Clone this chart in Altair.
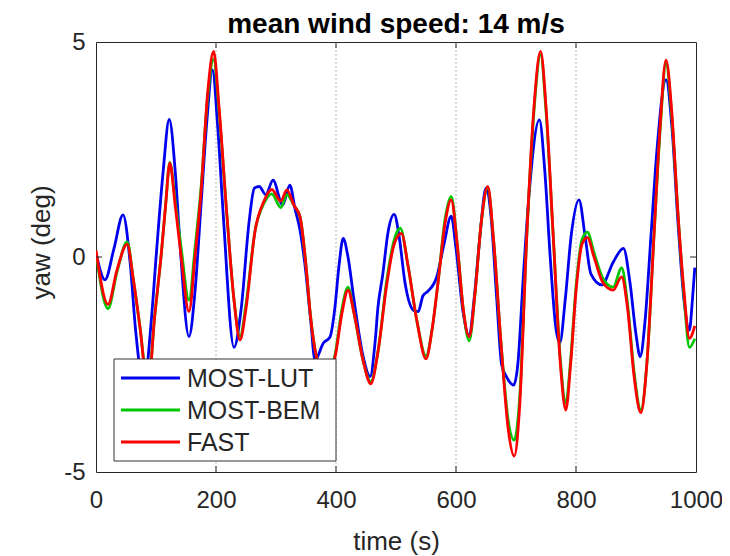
import altair as alt
import pandas as pd

FONT = "Liberation Sans"

# ---- data ----
series_names = ["MOST-LUT", "MOST-BEM", "FAST"]
series_colors = ["#0000ee", "#00c800", "#ff0000"]
title_text = "mean wind speed: 14 m/s"

lut_t = [0, 15, 30, 45, 57, 66, 80, 92, 101, 112, 122, 132, 140, 155, 165, 175, 185, 194, 203, 212,
         230, 242, 255, 264, 272, 283, 295, 311, 323, 332, 340, 348, 358, 365, 379, 390, 398, 405, 412,
         420, 430, 445, 457, 465, 470, 478, 487, 497, 505, 515, 530, 537, 545, 553, 568, 580, 592, 600,
         612, 622, 630, 640, 650, 658, 668, 676, 684, 696, 703, 712, 722, 739, 748, 757, 766, 773, 782,
         792, 805, 815, 825, 843, 862, 879, 890, 900, 907, 915, 925, 935, 950, 960, 970, 980, 989, 994, 998]
lut_v = [0.1, -0.53, 0.2, 0.98, -0.15, -1.7, -3.0, -1.5, 0.15, 2.0, 3.2, 2.0, 0.3, -1.85, -0.8, 1.2, 3.2, 4.35, 3.0, 1.0,
         -2.1, -1.2, 0.8, 1.6, 1.64, 1.45, 1.79, 1.21, 1.67, 1.1, 0.63, -0.15, -1.5, -2.4, -2.0, -1.86, -1.2, -0.2, 0.43,
         0.0, -1.0, -2.3, -2.78, -2.0, -1.16, -0.4, 0.6, 0.99, 0.5, -0.6, -1.25, -1.27, -0.9, -0.8, -0.46, 0.3, 0.95, 0.2,
         -1.3, -1.85, -1.0, 0.5, 1.6, 1.0, -1.0, -2.5, -2.78, -2.98, -2.5, -0.5, 1.5, 3.19, 2.0, 0.0, -1.6, -2.0, -1.0,
         0.5, 1.33, 0.5, -0.4, -0.65, -0.12, 0.2, -0.6, -1.8, -2.32, -1.5, 0.5, 2.5, 4.12, 3.0, 0.8, -1.0, -1.7, -1.0, -0.25]

bem_t = [0, 20, 35, 52, 62, 73, 87, 97, 109, 116, 123, 132, 142, 155, 165, 175, 186, 196, 205, 218,
         230, 240, 250, 265, 280, 293, 308, 318, 330, 340, 350, 357, 367, 378, 390, 398, 410, 420, 430,
         445, 458, 470, 485, 497, 507, 520, 535, 550, 560, 570, 582, 592, 602, 612, 622, 632, 642, 653,
         662, 675, 687, 697, 706, 718, 730, 741, 750, 762, 774, 783, 791, 800, 810, 819, 830, 845, 862,
         876, 886, 897, 908, 918, 930, 940, 950, 960, 970, 980, 989, 998]
bem_v = [0.1, -1.2, -0.35, 0.35, -0.5, -1.6, -3.0, -1.5, 0.1, 1.2, 2.2, 1.3, 0.2, -1.0, 0.2, 1.6, 3.7, 4.6, 3.4, 1.0,
         -1.0, -1.85, -1.1, 0.6, 1.25, 1.47, 1.15, 1.45, 1.2, 0.94, -0.2, -1.3, -2.3, -2.7, -2.6, -2.3, -1.2, -0.7, -1.3,
         -2.4, -2.9, -2.2, -0.5, 0.4, 0.67, -0.2, -1.5, -2.3, -1.7, -0.6, 0.9, 1.41, 0.3, -1.2, -1.95, -0.8, 0.8, 1.6,
         0.5, -2.0, -3.8, -4.26, -3.3, 0.5, 3.4, 4.7, 3.4, 0.5, -2.4, -3.4, -2.4, -0.7, 0.4, 0.58, 0.1, -0.5, -0.7,
         -0.25, -1.1, -2.7, -3.55, -2.5, 0.5, 2.9, 4.5, 3.2, 1.0, -0.9, -2.1, -1.9]

fast_t = [0, 20, 35, 52, 62, 73, 87, 97, 109, 116, 123, 132, 142, 155, 165, 175, 186, 196, 205, 218,
          230, 240, 250, 265, 280, 293, 308, 318, 330, 340, 350, 357, 367, 378, 390, 398, 410, 420, 430,
          445, 458, 470, 485, 497, 509, 520, 535, 550, 560, 570, 582, 592, 602, 612, 622, 632, 642, 653,
          662, 675, 687, 697, 706, 718, 730, 741, 750, 762, 774, 783, 791, 800, 810, 819, 830, 845, 862,
          876, 886, 897, 908, 918, 930, 940, 950, 960, 970, 980, 989, 998]
fast_v = [0.15, -1.1, -0.3, 0.3, -0.5, -1.6, -3.1, -1.5, 0.1, 1.2, 2.18, 1.2, 0.0, -1.27, 0.0, 1.5, 3.8, 4.78, 3.5, 1.0,
          -1.0, -1.93, -1.2, 0.6, 1.3, 1.57, 1.3, 1.56, 1.2, 0.94, -0.2, -1.31, -2.3, -2.7, -2.6, -2.35, -1.3, -0.77, -1.3,
          -2.4, -2.95, -2.2, -0.6, 0.3, 0.55, -0.2, -1.5, -2.37, -1.7, -0.6, 0.8, 1.33, 0.3, -1.2, -1.85, -0.8, 0.8, 1.64,
          0.5, -2.0, -4.0, -4.63, -3.5, 0.5, 3.5, 4.78, 3.5, 0.5, -2.5, -3.56, -2.5, -0.8, 0.3, 0.45, 0.0, -0.6, -0.77,
          -0.46, -1.2, -2.8, -3.62, -2.5, 0.5, 3.0, 4.58, 3.3, 1.0, -0.8, -1.89, -1.6]

x_ticks = [0, 200, 400, 600, 800, 1000]
y_ticks = [-5, 0, 5]
grid_x = [200, 400, 600, 800]

W, H = 600, 430

x_scale = alt.Scale(domain=[0, 1000], nice=False, zero=False)
y_scale = alt.Scale(domain=[-5, 5], nice=False, zero=False)

x_axis = alt.Axis(values=x_ticks, grid=False, ticks=False, domain=False, labelFontSize=24,
                  labelPadding=16, labelFont=FONT, labelColor="#262626", labelFlush=False,
                  labelExpr="'' + datum.value",
                  title="time (s)", titleFontSize=26, titleFont=FONT, titleFontWeight="normal",
                  titleColor="#262626", titleBaseline="alphabetic", titleY=77)
y_axis = alt.Axis(values=y_ticks, grid=False, ticks=False, domain=False, labelFontSize=24,
                  labelPadding=11, labelFont=FONT, labelColor="#262626", labelFlush=False,
                  labelExpr="'' + datum.value",
                  title="yaw (deg)", titleFontSize=26, titleFont=FONT, titleFontWeight="normal",
                  titleColor="#262626", titleAngle=-90, titleBaseline="middle", titleAlign="center",
                  titleX=-55, titleY=200)

layers = []

# dotted vertical grid lines
grid_df = pd.DataFrame({"time": grid_x})
layers.append(alt.Chart(grid_df).mark_rule(color="#a0a0a0", strokeWidth=1, strokeDash=[1.5, 2.5]).encode(
    x=alt.X("time:Q", scale=x_scale, axis=x_axis),
    y=alt.value(0), y2=alt.value(H)))


def line_layer(t, v, color):
    df = pd.DataFrame({"time": t, "yaw": v})
    return alt.Chart(df).mark_line(color=color, strokeWidth=2.8, interpolate="monotone", clip=True).encode(
        x=alt.X("time:Q", scale=x_scale, axis=x_axis),
        y=alt.Y("yaw:Q", scale=y_scale, axis=y_axis),
    )


layers += [
    line_layer(lut_t, lut_v, series_colors[0]),
    line_layer(bem_t, bem_v, series_colors[1]),
    line_layer(fast_t, fast_v, series_colors[2]),
]

# inward tick marks (MATLAB style) on bottom and top edges
for y0, y1 in [(H - 6, H), (0, 6)]:
    layers.append(alt.Chart(grid_df).mark_rule(color="#262626", strokeWidth=1).encode(
        x=alt.X("time:Q", scale=x_scale, axis=x_axis),
        y=alt.value(y0), y2=alt.value(y1)))
ytick_df = pd.DataFrame({"yaw": [0]})
for x0, x1 in [(0, 6), (W - 6, W)]:
    layers.append(alt.Chart(ytick_df).mark_rule(color="#262626", strokeWidth=1).encode(
        y=alt.Y("yaw:Q", scale=y_scale, axis=y_axis),
        x=alt.value(x0), x2=alt.value(x1)))

# legend box
dummy = pd.DataFrame({"a": [0]})
lx0, lx1, ly0, ly1 = 18, 240, 317, 419
layers.append(alt.Chart(dummy).mark_rect(fill="white", stroke="#333333", strokeWidth=1).encode(
    x=alt.value(lx0), x2=alt.value(lx1), y=alt.value(ly0), y2=alt.value(ly1)))
for i, (name, col) in enumerate(zip(series_names, series_colors)):
    yy = 336 + 32 * i
    layers.append(alt.Chart(dummy).mark_rule(color=col, strokeWidth=2.8).encode(
        x=alt.value(lx0 + 7), x2=alt.value(lx0 + 66), y=alt.value(yy)))
    layers.append(alt.Chart(dummy).mark_text(text=name, align="left", baseline="middle",
                                              font=FONT, fontSize=25, color="#262626").encode(
        x=alt.value(lx0 + 73), y=alt.value(yy + 1)))

# title
layers.append(alt.Chart(dummy).mark_text(text=title_text, align="center", baseline="alphabetic",
                                          font=FONT, fontSize=28, fontWeight="bold", color="black").encode(
    x=alt.value(W / 2), y=alt.value(-9)))

chart = alt.layer(*layers).properties(
    width=W, height=H,
    autosize=alt.AutoSizeParams(type="none"),
    padding={"left": 88, "top": 34, "right": 26, "bottom": 84},
).configure(background="white").configure_view(stroke="#262626", strokeWidth=1)

chart.save("out.html", embed_options={"renderer": "svg", "actions": False})
